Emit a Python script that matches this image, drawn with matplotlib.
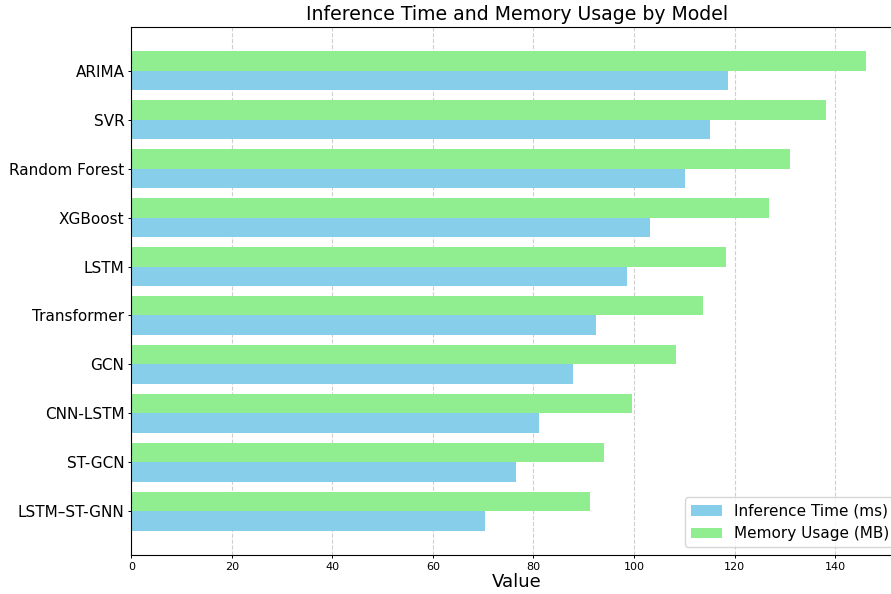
import numpy as np
import matplotlib
matplotlib.use("Agg")
import matplotlib.pyplot as plt

models = ["LSTM–ST-GNN", "ST-GCN", "CNN-LSTM", "GCN", "Transformer",
          "LSTM", "XGBoost", "Random Forest", "SVR", "ARIMA"]
inference_ms = [70.3, 76.6, 81.1, 87.8, 92.4, 98.7, 103.2, 110.2, 115.2, 118.7]
memory_mb = [91.2, 94.1, 99.7, 108.4, 113.7, 118.3, 126.9, 131.1, 138.3, 146.2]

fig = plt.figure(figsize=(8.91, 5.94), dpi=100)
ax = fig.add_axes([0.1474, 0.0657, 0.866, 0.8888])

y = np.arange(len(models))
h = 0.4
ax.barh(y - h / 2, inference_ms, height=h, color="skyblue", label="Inference Time (ms)")
ax.barh(y + h / 2, memory_mb, height=h, color="lightgreen", label="Memory Usage (MB)")

ax.set_yticks(y)
ax.set_yticklabels(models, fontsize=11)
ax.tick_params(axis="both", length=2.5, width=0.7, pad=2.5)
ax.tick_params(axis="x", labelsize=8)
ax.set_xlabel("Value", fontsize=13, labelpad=1)
ax.set_title("Inference Time and Memory Usage by Model", fontsize=13.6, pad=5)
ax.grid(axis="x", linestyle="--", alpha=0.6)
ax.set_axisbelow(True)
ax.legend(loc="lower right", fontsize=11)

fig.savefig("out.png", dpi=100)
